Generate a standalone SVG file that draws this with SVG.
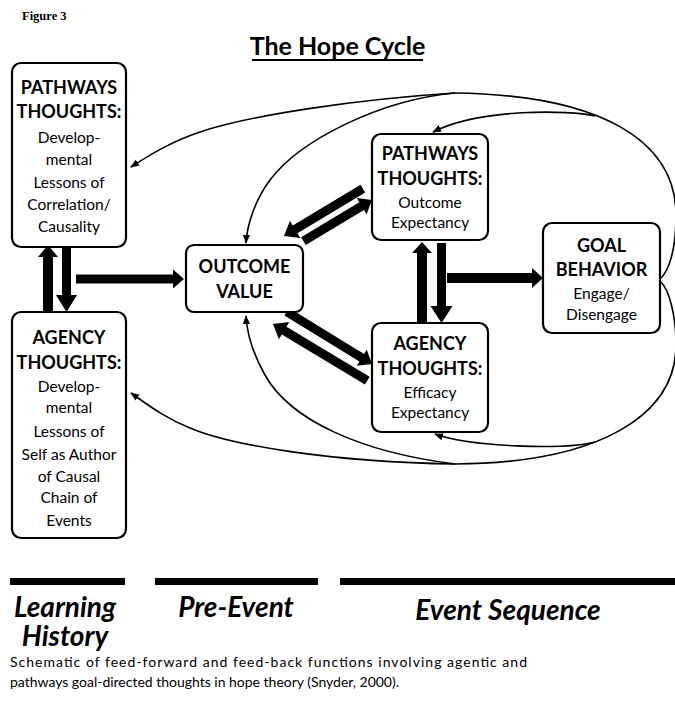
<svg xmlns="http://www.w3.org/2000/svg" width="675" height="706" viewBox="0 0 675 706">
<style>
.box{fill:#fff;stroke:#000;stroke-width:2.2}
.hd{font-family:Lato,"Liberation Sans",sans-serif;font-weight:bold;font-size:18px;fill:#000;text-anchor:middle}
.tx{font-family:Lato,"Liberation Sans",sans-serif;font-size:15.5px;fill:#000;text-anchor:middle}
.lab{font-family:Lato,"Liberation Sans",sans-serif;font-weight:bold;font-style:italic;font-size:28px;fill:#000;text-anchor:middle}
.cap{font-family:Lato,"Liberation Sans",sans-serif;font-size:14px;fill:#000}
.cv{fill:none;stroke:#000;stroke-width:1.6}
.blk{fill:#000}
</style>
<defs>
<marker id="ah" viewBox="0 0 10 10" refX="9" refY="5" markerWidth="9" markerHeight="9" markerUnits="userSpaceOnUse" orient="auto">
<path d="M0,1 L10,5 L0,9 z" fill="#000"/>
</marker>
</defs>
<text x="22" y="20" font-family="'Liberation Serif',serif" font-weight="bold" font-size="12.5">Figure 3</text>
<g id="title">
<text x="337.5" y="55" font-family="Lato,'Liberation Sans',sans-serif" font-weight="bold" font-size="25" text-anchor="middle">The Hope Cycle</text>
<rect x="252" y="59" width="171" height="2" fill="#000"/>
</g>
<g id="connectors">
<path class="cv" d="M661,278 C669,270 676,250 676,215 C676,140 600,95 455,93"/>
<path class="cv" d="M455,93 C360,99 250,115 200,132 C170,142 148,156 131,167" marker-end="url(#ah)"/>
<path class="cv" d="M455,93 C380,100 300,140 270,180 C255,200 247,225 246,243" marker-end="url(#ah)"/>
<path class="cv" d="M595,116 C570,110 480,108 433,132" marker-end="url(#ah)"/>
<path class="cv" d="M661,282 C669,290 676,315 676,345 C676,415 600,463 455,464"/>
<path class="cv" d="M455,464 C330,462 230,445 190,428 C165,418 148,405 131,393" marker-end="url(#ah)"/>
<path class="cv" d="M455,464 C360,452 290,420 265,375 C252,352 247,335 246,316" marker-end="url(#ah)"/>
<path class="cv" d="M595,442 C565,450 470,447 435,434" marker-end="url(#ah)"/>
<polygon class="blk" transform="translate(48,245) rotate(-90)" points="0,0 -12,-10 -12,-5 -67,-5 -67,5 -12,5 -12,10"/>
<polygon class="blk" transform="translate(66.5,312) rotate(90)" points="0,0 -17,-10.5 -17,-4.5 -64,-4.5 -64,4.5 -17,4.5 -17,10.5"/>
<polygon class="blk" transform="translate(184,279)" points="0,0 -11,-9.5 -11,-4.5 -108,-4.5 -108,4.5 -11,4.5 -11,9.5"/>
<polygon class="blk" transform="translate(422,242) rotate(-90)" points="0,0 -11,-10 -11,-5 -80,-5 -80,5 -11,5 -11,10"/>
<polygon class="blk" transform="translate(441.5,323) rotate(90)" points="0,0 -17,-11 -17,-4.5 -80,-4.5 -80,4.5 -17,4.5 -17,11"/>
<polygon class="blk" transform="translate(543,278)" points="0,0 -11,-10 -11,-5 -96,-5 -96,5 -11,5 -11,10"/>
<polygon class="blk" transform="translate(284,236) rotate(149)" points="0,0 -13,-10 -13,-4.5 -92,-4.5 -92,4.5 -13,4.5 -13,10"/>
<polygon class="blk" transform="translate(372,200) rotate(-31)" points="0,0 -12,-9.5 -12,-4.5 -80,-4.5 -80,4.5 -12,4.5 -12,9.5"/>
<polygon class="blk" transform="translate(372,364) rotate(31.5)" points="0,0 -12,-9.5 -12,-4.5 -100,-4.5 -100,4.5 -12,4.5 -12,9.5"/>
<polygon class="blk" transform="translate(273,324) rotate(211)" points="0,0 -13,-10 -13,-4.5 -110,-4.5 -110,4.5 -13,4.5 -13,10"/>
</g>
<g id="learning-pathways">
<rect class="box" x="12" y="63" width="114" height="184" rx="9"/>
<text class="hd" x="69" y="94">PATHWAYS</text>
<text class="hd" x="69" y="118">THOUGHTS:</text>
<text class="tx" x="69" y="143">Develop-</text>
<text class="tx" x="69" y="165">mental</text>
<text class="tx" x="69" y="188">Lessons of</text>
<text class="tx" x="69" y="210">Correlation/</text>
<text class="tx" x="69" y="232">Causality</text>
</g>
<g id="learning-agency">
<rect class="box" x="12" y="312" width="114" height="226" rx="9"/>
<text class="hd" x="69" y="344">AGENCY</text>
<text class="hd" x="69" y="369">THOUGHTS:</text>
<text class="tx" x="69" y="392">Develop-</text>
<text class="tx" x="69" y="413">mental</text>
<text class="tx" x="69" y="437">Lessons of</text>
<text class="tx" x="69" y="460">Self as Author</text>
<text class="tx" x="69" y="482">of Causal</text>
<text class="tx" x="69" y="503">Chain of</text>
<text class="tx" x="69" y="526">Events</text>
</g>
<g id="outcome-value">
<rect class="box" x="186" y="245" width="117" height="67" rx="8"/>
<text class="hd" x="244.5" y="273">OUTCOME</text>
<text class="hd" x="244.5" y="298">VALUE</text>
</g>
<g id="pathways-outcome">
<rect class="box" x="372" y="134" width="116" height="106" rx="9"/>
<text class="hd" x="430" y="160">PATHWAYS</text>
<text class="hd" x="430" y="185">THOUGHTS:</text>
<text class="tx" x="430" y="208">Outcome</text>
<text class="tx" x="430" y="228">Expectancy</text>
</g>
<g id="agency-efficacy">
<rect class="box" x="372" y="323" width="116" height="109" rx="9"/>
<text class="hd" x="430" y="350">AGENCY</text>
<text class="hd" x="430" y="375">THOUGHTS:</text>
<text class="tx" x="430" y="398">Efficacy</text>
<text class="tx" x="430" y="418">Expectancy</text>
</g>
<g id="goal-behavior">
<rect class="box" x="543" y="223" width="117" height="110" rx="9"/>
<text class="hd" x="601.5" y="252">GOAL</text>
<text class="hd" x="601.5" y="276">BEHAVIOR</text>
<text class="tx" x="601.5" y="299">Engage/</text>
<text class="tx" x="601.5" y="320">Disengage</text>
</g>
<g id="timeline">
<rect x="10" y="578" width="115" height="7" fill="#000"/>
<rect x="155" y="578" width="163" height="7" fill="#000"/>
<rect x="340" y="578" width="335" height="7" fill="#000"/>
<text class="lab" x="65" y="617">Learning</text>
<text class="lab" x="65" y="646">History</text>
<text class="lab" x="236" y="617">Pre-Event</text>
<text class="lab" x="508" y="620">Event Sequence</text>
</g>
<text class="cap" x="10" y="667" textLength="517" lengthAdjust="spacing">Schematic of feed-forward and feed-back functions involving agentic and</text>
<text class="cap" x="10" y="687" textLength="389" lengthAdjust="spacing">pathways goal-directed thoughts in hope theory (Snyder, 2000).</text>
</svg>
